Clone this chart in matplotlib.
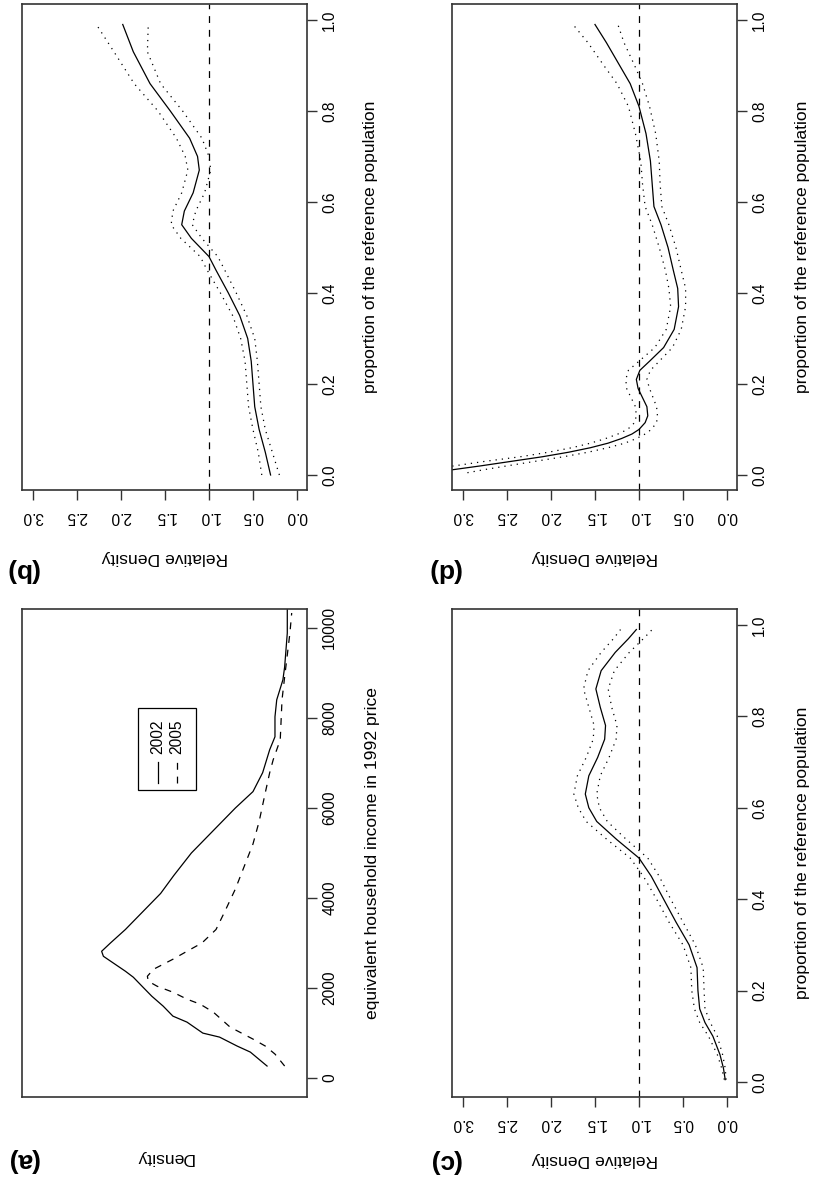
import matplotlib
matplotlib.use("Agg")
import matplotlib.pyplot as plt
from matplotlib.patches import Rectangle
from matplotlib.lines import Line2D

plt.rcParams['font.family'] = ['Liberation Sans', 'DejaVu Sans']

# ---- data read off the (rotated) reference ----
# (a) kernel densities of income, values in 1e-4
inc_02 = [266, 576, 710, 909, 998, 1242, 1375, 1596, 1818, 2018, 2240, 2373, 2572, 2705, 2816,
          3000, 3300, 3700, 4100, 4500, 5000, 5500, 6000, 6364, 6785, 7295, 7583, 8027, 8404,
          8847, 9135, 9889, 10500]
den_02 = [0.34, 0.53, 0.68, 0.88, 1.07, 1.25, 1.41, 1.52, 1.65, 1.75, 1.86, 1.95, 2.10, 2.20, 2.22,
          2.12, 1.95, 1.75, 1.55, 1.40, 1.20, 0.95, 0.70, 0.50, 0.39, 0.31, 0.25, 0.25, 0.23,
          0.16, 0.14, 0.11, 0.11]
inc_05 = [266, 532, 710, 865, 1131, 1463, 1641, 1752, 1907, 2040, 2151, 2262, 2417, 2639, 2816,
          3000, 3300, 3700, 4200, 4700, 5200, 5700, 6341, 6785, 7073, 7517, 8404, 8914, 9889, 10333]
den_05 = [0.14, 0.25, 0.36, 0.50, 0.76, 0.95, 1.10, 1.25, 1.41, 1.59, 1.69, 1.70, 1.63, 1.41, 1.25,
          1.08, 0.92, 0.82, 0.70, 0.60, 0.50, 0.43, 0.36, 0.31, 0.27, 0.19, 0.17, 0.14, 0.08, 0.06]

# (b) relative density
p_b = [0.00, 0.05, 0.10, 0.15, 0.20, 0.25, 0.30, 0.35, 0.40, 0.45, 0.48, 0.50, 0.52, 0.55, 0.58,
       0.62, 0.67, 0.70, 0.74, 0.80, 0.86, 0.93, 0.99]
mid_b = [0.30, 0.36, 0.43, 0.48, 0.50, 0.52, 0.56, 0.65, 0.78, 0.92, 1.00, 1.10, 1.20, 1.31, 1.28,
         1.18, 1.11, 1.13, 1.22, 1.44, 1.67, 1.86, 1.98]
hi_b = [0.40, 0.44, 0.50, 0.55, 0.57, 0.59, 0.64, 0.73, 0.87, 1.02, 1.10, 1.21, 1.32, 1.43, 1.41,
        1.31, 1.24, 1.27, 1.37, 1.58, 1.85, 2.08, 2.28]
lo_b = [0.20, 0.28, 0.36, 0.41, 0.43, 0.45, 0.48, 0.57, 0.69, 0.82, 0.90, 0.99, 1.08, 1.19, 1.15,
        1.05, 0.98, 1.00, 1.08, 1.30, 1.55, 1.70, 1.69]

# (c) relative density
p_c = [0.005, 0.03, 0.06, 0.10, 0.13, 0.16, 0.20, 0.25, 0.30, 0.35, 0.40, 0.45, 0.49, 0.53, 0.57,
       0.60, 0.63, 0.67, 0.71, 0.75, 0.78, 0.82, 0.86, 0.90, 0.94, 0.97, 0.99]
mid_c = [0.02, 0.04, 0.08, 0.16, 0.25, 0.31, 0.33, 0.34, 0.43, 0.58, 0.72, 0.86, 1.00, 1.25, 1.48,
         1.57, 1.61, 1.57, 1.47, 1.39, 1.38, 1.44, 1.49, 1.43, 1.27, 1.12, 1.03]
hi_c = [0.03, 0.06, 0.11, 0.21, 0.31, 0.37, 0.40, 0.41, 0.50, 0.66, 0.80, 0.95, 1.10, 1.36, 1.60,
        1.69, 1.74, 1.70, 1.60, 1.52, 1.51, 1.57, 1.63, 1.58, 1.43, 1.29, 1.21]
lo_c = [0.01, 0.02, 0.05, 0.11, 0.19, 0.25, 0.26, 0.27, 0.36, 0.50, 0.64, 0.77, 0.90, 1.14, 1.36,
        1.45, 1.48, 1.44, 1.34, 1.26, 1.25, 1.31, 1.35, 1.28, 1.11, 0.95, 0.85]

# (d) relative density
p_d = [0.005, 0.012, 0.02, 0.03, 0.04, 0.05, 0.06, 0.07, 0.08, 0.09, 0.10, 0.115, 0.13, 0.15, 0.17,
       0.19, 0.21, 0.23, 0.25, 0.28, 0.32, 0.37, 0.41, 0.45, 0.50, 0.55, 0.59, 0.64, 0.69, 0.75,
       0.81, 0.86, 0.90, 0.95, 0.99]
mid_d = [3.40, 3.10, 2.80, 2.45, 2.10, 1.80, 1.55, 1.35, 1.20, 1.08, 1.00, 0.93, 0.90, 0.91, 0.96,
         1.01, 1.03, 0.99, 0.88, 0.72, 0.60, 0.55, 0.56, 0.61, 0.67, 0.75, 0.83, 0.85, 0.87, 0.92,
         1.00, 1.10, 1.22, 1.37, 1.50]
hi_d = [3.90, 3.50, 3.10, 2.75, 2.35, 2.03, 1.76, 1.55, 1.38, 1.24, 1.13, 1.05, 1.03, 1.04, 1.09,
        1.14, 1.15, 1.12, 1.00, 0.82, 0.69, 0.64, 0.66, 0.70, 0.77, 0.85, 0.93, 0.96, 0.98, 1.04,
        1.12, 1.25, 1.40, 1.58, 1.75]
lo_d = [2.95, 2.75, 2.50, 2.18, 1.86, 1.58, 1.35, 1.16, 1.03, 0.93, 0.86, 0.80, 0.79, 0.80, 0.84,
        0.88, 0.91, 0.87, 0.77, 0.62, 0.52, 0.47, 0.47, 0.52, 0.58, 0.66, 0.74, 0.76, 0.77, 0.81,
        0.88, 0.96, 1.05, 1.17, 1.24]

dens_ticks = [0.0, 0.5, 1.0, 1.5, 2.0, 2.5, 3.0]
prop_ticks = [0.0, 0.2, 0.4, 0.6, 0.8, 1.0]
inc_ticks = [0, 2000, 4000, 6000, 8000, 10000]
legend_labels = ["2002", "2005"]

W, H = 815, 1184
fig = plt.figure(figsize=(W / 100, H / 100), dpi=100)


def fx(x):
    return x / W


def fy(y):
    return 1 - y / H


def panel(left, top, right, bottom):
    return fig.add_axes([fx(left), fy(bottom), (right - left) / W, (bottom - top) / H])


DASH = (0, (5.5, 5.5))
DOT = (0, (1, 4))
TICK_FS = 11.2
LAB_FS = 12.6


def frame(ax):
    for s in ax.spines.values():
        s.set_linewidth(1.2)
        s.set_color('#333333')
    ax.set_xlim(3.125, -0.114)
    ax.xaxis.tick_bottom()
    ax.yaxis.tick_right()
    ax.tick_params(axis='both', direction='out', length=7, width=1, color='#333333',
                   labelsize=TICK_FS)
    ax.tick_params(axis='x', pad=7)
    ax.tick_params(axis='y', pad=4)


def rel_panel(ax, p, mid, hi, lo):
    frame(ax)
    ax.set_ylim(-0.033, 1.035)
    ax.set_xticks(dens_ticks)
    ax.set_xticklabels(["%.1f" % t for t in dens_ticks], rotation=180)
    ax.set_yticks(prop_ticks)
    ax.set_yticklabels(["%.1f" % t for t in prop_ticks], rotation=90, va='center')
    ax.axvline(1.0, color='black', lw=0.9, ls=DASH)
    ax.plot(mid, p, color='black', lw=0.9)
    ax.plot(hi, p, color='black', lw=0.9, ls=DOT)
    ax.plot(lo, p, color='black', lw=0.9, ls=DOT)


ax_b = panel(22, 4, 307, 490)
rel_panel(ax_b, p_b, mid_b, hi_b, lo_b)
ax_d = panel(452, 4, 737, 490)
rel_panel(ax_d, p_d, mid_d, hi_d, lo_d)
ax_c = panel(452, 609, 737, 1097)
rel_panel(ax_c, p_c, mid_c, hi_c, lo_c)

ax_a = panel(22, 609, 307, 1097)
frame(ax_a)
ax_a.set_ylim(-422, 10422)
ax_a.set_xticks([])
ax_a.set_yticks(inc_ticks)
ax_a.set_yticklabels([str(t) for t in inc_ticks], rotation=90, va='center')
ax_a.plot(den_02, inc_02, color='black', lw=0.9)
ax_a.plot(den_05, inc_05, color='black', lw=0.9, ls=DASH)

# legend of (a), drawn rotated like the rest of the page
fig.add_artist(Rectangle((fx(138), fy(790)), (196 - 138) / W, (790 - 708) / H,
                         transform=fig.transFigure, fill=False, lw=0.9, ec='black'))
for xc, lab, ls in [(158, legend_labels[0], '-'), (177, legend_labels[1], DASH)]:
    fig.add_artist(Line2D([fx(xc), fx(xc)], [fy(783), fy(762)], transform=fig.transFigure,
                          color='black', lw=0.9, ls=ls))
    fig.text(fx(xc), fy(737), lab, rotation=90, ha='center', va='center', fontsize=TICK_FS)

# axis titles and panel letters
for x, y, s in [(164.5, 558, "Relative Density"), (594.5, 558, "Relative Density"),
                (594.5, 1160, "Relative Density"), (164.5, 1158, "Density")]:
    fig.text(fx(x), fy(y), s, rotation=180, ha='center', va='center', fontsize=LAB_FS)
for x, y, s in [(370, 247, "proportion of the reference population"),
                (803, 247, "proportion of the reference population"),
                (803, 853, "proportion of the reference population"),
                (372, 853, "equivalent household income in 1992 price")]:
    fig.text(fx(x), fy(y), s, rotation=90, ha='center', va='center', fontsize=LAB_FS)
for x, y, s in [(22, 570, "(b)"), (444, 570, "(d)"), (22, 1160, "(a)"), (444, 1161, "(c)")]:
    fig.text(fx(x), fy(y), s, rotation=180, ha='center', va='center', fontsize=19,
             fontweight='bold')

fig.savefig("out.png", dpi=100)
